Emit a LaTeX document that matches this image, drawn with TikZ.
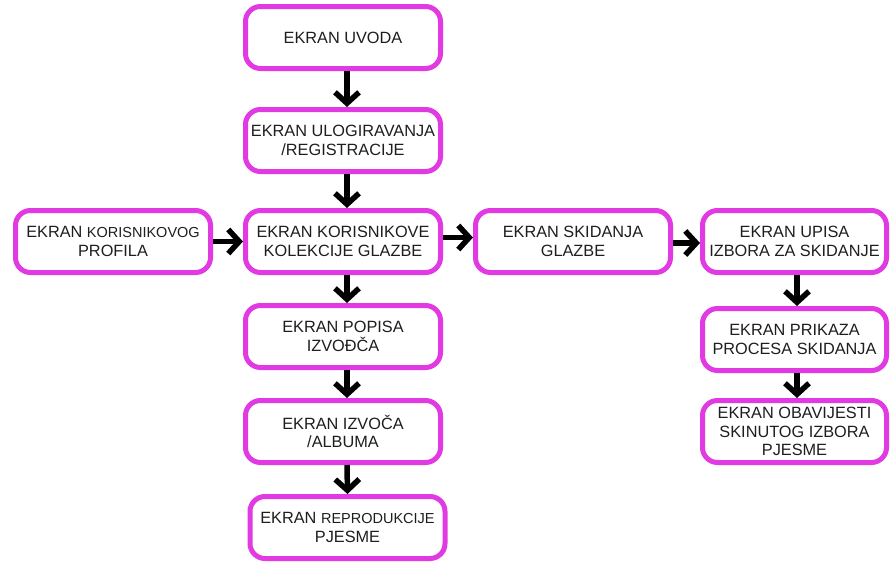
\documentclass[tikz,border=0pt]{standalone}
\usepackage{fontspec}
\setmainfont{Liberation Sans}
\usetikzlibrary{arrows.meta}
\definecolor{mag}{RGB}{226,58,226}
\definecolor{txt}{RGB}{30,30,30}
\begin{document}
\begin{tikzpicture}[x=1pt,y=-1pt,
 box/.style={draw=mag, line width=5pt, rounded corners=15pt, fill=white, minimum width=195pt, minimum height=62pt, inner sep=0pt, align=center, text=txt, font=\fontsize{16.3}{18.5}\selectfont},
 arr/.style={line width=5.5pt, -{Straight Barb[length=11pt,width=24pt]}}]
\useasboundingbox (0,0) rectangle (892,563);
\node[box] (uvod) at (343,37.5) {EKRAN UVODA};
\node[box] (ulog) at (343,140.5) {EKRAN ULOGIRAVANJA\\/REGISTRACIJE};
\node[box] (kol) at (343,241.5) {EKRAN KORISNIKOVE\\KOLEKCIJE GLAZBE};
\node[box] (prof) at (113,241.5) {EKRAN {\fontsize{14.5}{18.5}\selectfont KORISNIKOVOG}\\PROFILA};
\node[box] (skid) at (573,241.5) {EKRAN SKIDANJA\\GLAZBE};
\node[box, minimum width=184pt] (upis) at (794.5,241.5) {EKRAN UPISA\\IZBORA ZA SKIDANJE};
\node[box] (popis) at (343,336.5) {EKRAN POPISA\\IZVOĐČA};
\node[box] (izv) at (343,431.5) {EKRAN IZVOČA\\/ALBUMA};
\node[box] (rep) at (347.5,527.5) {EKRAN {\fontsize{14.5}{18.5}\selectfont REPRODUKCIJE}\\PJESME};
\node[box, minimum width=184pt] (prik) at (794.5,339.5) {EKRAN PRIKAZA\\PROCESA SKIDANJA};
\node[box, minimum width=184pt] (obav) at (794.5,431.5) {EKRAN OBAVIJESTI\\SKINUTOG IZBORA\\PJESME};
\draw[arr] ([xshift=4pt]uvod.south) -- ([xshift=4pt]ulog.north);
\draw[arr] ([xshift=4pt]ulog.south) -- ([xshift=4pt]kol.north);
\draw[arr] ([xshift=4pt]kol.south) -- ([xshift=4pt]popis.north);
\draw[arr] ([xshift=4pt]popis.south) -- ([xshift=4pt]izv.north);
\draw[arr] ([xshift=4pt]izv.south) -- ([xshift=0pt]rep.north);
\draw[arr] (prof.east) -- (kol.west);
\draw[arr] ([yshift=4pt]kol.east) -- ([yshift=4pt]skid.west);
\draw[arr] ([yshift=-1.5pt]skid.east) -- ([yshift=-1.5pt]upis.west);
\draw[arr] ([xshift=2.5pt]upis.south) -- ([xshift=2.5pt]prik.north);
\draw[arr] ([xshift=2.5pt]prik.south) -- ([xshift=2.5pt]obav.north);
\end{tikzpicture}
\end{document}
